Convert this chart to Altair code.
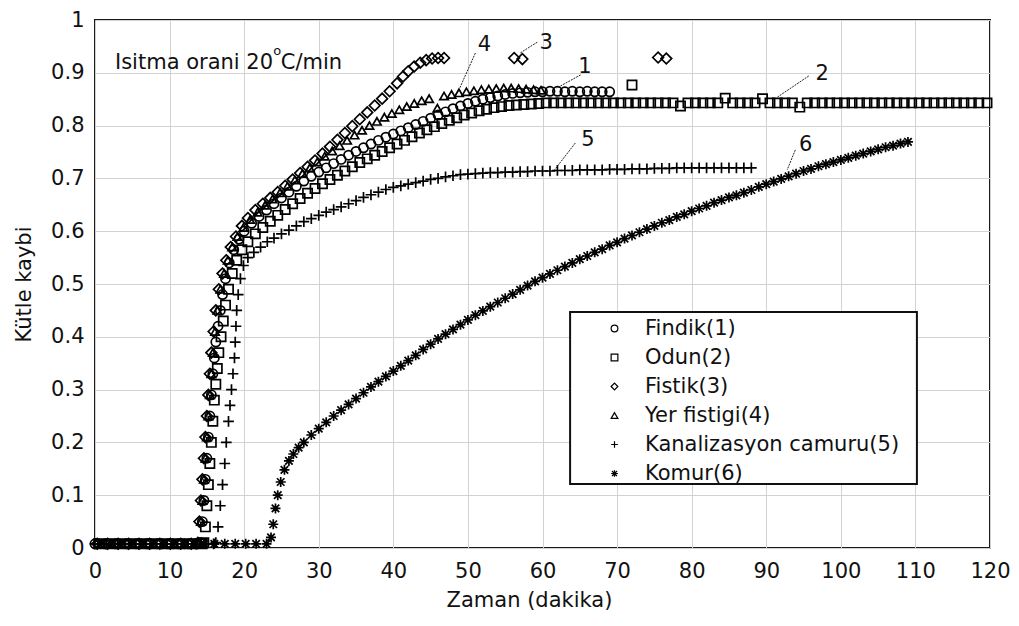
import altair as alt
import pandas as pd

NAMES = ["Findik(1)", "Odun(2)", "Fistik(3)", "Yer fistigi(4)",
         "Kanalizasyon camuru(5)", "Komur(6)"]

# ---- Findik (1), circles
findik_x = [0.0, 1.4, 2.8, 4.2, 5.6, 7.0, 8.4, 9.8, 11.2, 12.6, 13.6,
            14.2, 14.4, 14.6, 14.8, 15.0, 15.2, 15.4, 15.6, 15.8, 16.0, 16.2, 16.5,
            16.8, 17.1, 17.5, 18.0, 18.6, 19.3, 20.0,
            21, 22, 23, 24, 25, 26, 27, 28, 29, 30, 31, 32, 33, 34, 35, 36, 37, 38,
            39, 40, 41, 42, 43, 44, 45, 46, 47, 48, 49, 50, 51, 52, 53, 54, 55, 56,
            57, 58, 59, 60, 61, 62, 63, 64, 65, 66, 67, 68, 69]
findik_y = [0.008, 0.008, 0.008, 0.008, 0.008, 0.008, 0.008, 0.008, 0.008, 0.008, 0.008,
            0.01, 0.05, 0.09, 0.13, 0.17, 0.21, 0.25, 0.29, 0.33, 0.36, 0.39, 0.42,
            0.45, 0.48, 0.51, 0.54, 0.565, 0.585, 0.6,
            0.615, 0.628, 0.64, 0.652, 0.663, 0.674, 0.685, 0.695, 0.704, 0.712, 0.72,
            0.728, 0.736, 0.744, 0.751, 0.758, 0.765, 0.772, 0.778, 0.784, 0.79, 0.796,
            0.802, 0.808, 0.814, 0.82, 0.826, 0.832, 0.837, 0.842, 0.846, 0.85, 0.853,
            0.856, 0.859, 0.861, 0.862, 0.863, 0.864, 0.864, 0.865, 0.865, 0.864, 0.865,
            0.864, 0.865, 0.864, 0.864, 0.864]

# ---- Odun (2), squares
odun_x = [0.5, 1.9, 3.3, 4.7, 6.1, 7.5, 8.9, 10.3, 11.7, 13.1, 14.2,
          14.6, 14.8, 15.0, 15.2, 15.4, 15.6, 15.8, 16.0, 16.2, 16.4, 16.6, 16.9,
          17.2, 17.5, 17.9, 18.4, 19.0, 19.7, 20.5,
          21.5, 22.5, 23.5, 24.5, 25.5, 26.5, 27.5, 28.5, 29.5, 30.5, 31.5, 32.5,
          33.5, 34.5, 35.5, 36.5, 37.5, 38.5, 39.5, 40.5, 41.5, 42.5, 43.5, 44.5,
          45.5, 46.5, 47.5, 48.5, 49.5, 50.5, 51.5, 52.5, 53.5, 54.5, 55.5, 56.5,
          57.5, 58.5, 59.5,
          60.5, 61.5, 62.5, 63.5, 64.5, 65.5, 66.5, 67.5, 68.5, 69.5, 70.5, 71.5,
          72.0, 72.5, 73.5, 74.5, 75.5, 76.5, 77.5, 78.5, 79.5, 80.5, 81.5, 82.5,
          83.5, 84.5, 85.5, 86.5, 87.5, 88.5, 89.5, 90.5, 91.5, 92.5, 93.5, 94.5,
          95.5, 96.5, 97.5, 98.5, 99.5, 100.5, 101.5, 102.5, 103.5, 104.5, 105.5,
          106.5, 107.5, 108.5, 109.5, 110.5, 111.5, 112.5, 113.5, 114.5, 115.5,
          116.5, 117.5, 118.5, 119.6]
odun_y = [0.008, 0.008, 0.008, 0.008, 0.008, 0.008, 0.008, 0.008, 0.008, 0.008, 0.008,
          0.01, 0.04, 0.08, 0.12, 0.16, 0.2, 0.24, 0.28, 0.31, 0.34, 0.37, 0.40,
          0.43, 0.46, 0.49, 0.52, 0.545, 0.565, 0.58,
          0.595, 0.607, 0.619, 0.63, 0.641, 0.652, 0.662, 0.672, 0.681, 0.69, 0.698,
          0.706, 0.714, 0.722, 0.73, 0.737, 0.744, 0.751, 0.758, 0.765, 0.772, 0.779,
          0.786, 0.792, 0.798, 0.804, 0.81, 0.815, 0.82, 0.824, 0.828, 0.831, 0.834,
          0.836, 0.838, 0.839, 0.84, 0.841, 0.842,
          0.843, 0.843, 0.843, 0.843, 0.843, 0.843, 0.843, 0.843, 0.843, 0.843, 0.843,
          0.843, 0.877, 0.843, 0.843, 0.843, 0.843, 0.843, 0.843, 0.837, 0.843, 0.843,
          0.843, 0.843, 0.843, 0.852, 0.843, 0.843, 0.843, 0.843, 0.851, 0.843, 0.843,
          0.843, 0.843, 0.835, 0.843, 0.843, 0.843, 0.843, 0.843, 0.843, 0.843, 0.843,
          0.843, 0.843, 0.843, 0.843, 0.843, 0.843, 0.843, 0.843, 0.843, 0.843, 0.843,
          0.843, 0.843, 0.843, 0.843, 0.843, 0.843, 0.848]

# ---- Fistik (3), diamonds
fistik_x = [0.3, 1.7, 3.1, 4.5, 5.9, 7.3, 8.7, 10.1, 11.5, 12.9,
            13.8, 14.0, 14.2, 14.4, 14.6, 14.8, 15.0, 15.2, 15.4, 15.6, 15.9, 16.2,
            16.6, 17.1, 17.6, 18.2, 18.9, 19.7, 20.5, 21.5, 22.5, 23.5, 24.5, 25.5,
            26.5, 27.5, 28.5, 29.5, 30.5, 31.5, 32.5, 33.5, 34.5, 35.5, 36.5, 37.5,
            38.5, 39.5, 40.5, 41.3, 42.0, 42.8, 43.6, 44.4, 45.2, 46.0, 46.8,
            56.2, 57.3, 75.5, 76.6]
fistik_y = [0.008, 0.008, 0.008, 0.008, 0.008, 0.008, 0.008, 0.008, 0.008, 0.008,
            0.01, 0.05, 0.09, 0.13, 0.17, 0.21, 0.25, 0.29, 0.33, 0.37, 0.41, 0.45,
            0.49, 0.52, 0.545, 0.57, 0.59, 0.61, 0.625, 0.64, 0.652, 0.663, 0.674,
            0.686, 0.698, 0.71, 0.722, 0.734, 0.747, 0.76, 0.773, 0.786, 0.799, 0.812,
            0.825, 0.838, 0.851, 0.865, 0.88, 0.893, 0.903, 0.912, 0.919, 0.924,
            0.927, 0.928, 0.928,
            0.928, 0.926, 0.929, 0.927]

# ---- Yer fistigi (4), triangles
yer_x = [0.8, 2.2, 3.6, 5.0, 6.4, 7.8, 9.2, 10.6, 12.0, 13.3,
         14.0, 14.2, 14.4, 14.6, 14.8, 15.0, 15.2, 15.4, 15.6, 15.8, 16.1, 16.4,
         16.8, 17.3, 17.8, 18.4, 19.1, 19.9, 20.8, 21.8, 22.8, 23.8, 24.8, 25.8,
         26.8, 27.8, 28.8, 29.8, 30.8, 31.8, 32.8, 33.8, 34.8, 35.8, 36.8, 37.8,
         38.8, 39.8, 40.8, 41.8, 42.8, 43.8, 44.8, 45.9, 46.8, 47.8, 48.8, 49.8,
         50.8, 51.8, 52.8, 53.8, 54.8, 55.8, 56.8, 57.8, 58.8, 59.8]
yer_y = [0.008, 0.008, 0.008, 0.008, 0.008, 0.008, 0.008, 0.008, 0.008, 0.008,
         0.01, 0.05, 0.09, 0.13, 0.17, 0.21, 0.25, 0.29, 0.33, 0.37, 0.41, 0.45,
         0.49, 0.52, 0.545, 0.57, 0.59, 0.607, 0.622, 0.636, 0.649, 0.661, 0.673,
         0.685, 0.697, 0.709, 0.72, 0.731, 0.742, 0.752, 0.762, 0.772, 0.782, 0.791,
         0.8, 0.808, 0.816, 0.823, 0.83, 0.836, 0.842, 0.847, 0.851, 0.833, 0.856,
         0.859, 0.862, 0.864, 0.866, 0.868, 0.869, 0.87, 0.871, 0.871, 0.87, 0.869,
         0.868, 0.867]

# ---- Kanalizasyon camuru (5), plus signs
kanal_x = [0.0, 1.5, 3.0, 4.5, 6.0, 7.5, 9.0, 10.5, 12.0, 13.5, 15.0, 15.9,
           16.2, 16.5, 16.8, 17.1, 17.4, 17.6, 17.9, 18.1, 18.3, 18.5, 18.7, 18.8,
           18.9, 19.0, 19.2, 19.5, 19.9, 20.5, 21.3, 22.2, 23.1, 24, 25, 26, 27, 28,
           29, 30, 31, 32, 33, 34, 35, 36, 37, 38, 39, 40, 41, 42, 43, 44, 45, 46,
           47, 48, 49, 50, 51, 52, 53, 54, 55, 56, 57, 58, 59, 60, 61, 62, 63, 64,
           65, 66, 67, 68, 69, 70, 71, 72, 73, 74, 75, 76, 77, 78, 79, 80, 81, 82,
           83, 84, 85, 86, 87, 88]
kanal_y = [0.008, 0.008, 0.008, 0.008, 0.008, 0.008, 0.008, 0.008, 0.008, 0.008, 0.008, 0.008,
           0.01, 0.04, 0.08, 0.12, 0.16, 0.2, 0.24, 0.27, 0.3, 0.33, 0.36, 0.39,
           0.42, 0.45, 0.48, 0.51, 0.535, 0.55, 0.56, 0.57, 0.58, 0.587, 0.595, 0.602,
           0.61, 0.618, 0.624, 0.63, 0.636, 0.641, 0.646, 0.652, 0.658, 0.664, 0.669,
           0.674, 0.679, 0.683, 0.686, 0.689, 0.692, 0.695, 0.698, 0.7, 0.703, 0.705,
           0.707, 0.708, 0.709, 0.71, 0.711, 0.711, 0.712, 0.712, 0.713, 0.713, 0.714,
           0.714, 0.714, 0.715, 0.715, 0.715, 0.716, 0.716, 0.716, 0.716, 0.717, 0.717,
           0.717, 0.718, 0.718, 0.718, 0.719, 0.719, 0.719, 0.72, 0.72, 0.72, 0.72,
           0.72, 0.72, 0.72, 0.72, 0.72, 0.72, 0.72]

# ---- Komur (6), asterisks
komur_x = [0.6, 2.0, 3.4, 4.8, 6.2, 7.6, 9.0, 10.4, 11.8, 13.2, 14.6, 16.0, 17.4,
           18.8, 20.2, 21.6, 23.0,
           23.6, 23.9, 24.2, 24.5, 24.9, 25.4, 26.0, 26.6, 27.3, 28.0, 29, 30, 31,
           32, 33, 34, 35, 36, 37, 38, 39, 40, 41, 42, 43, 44, 45, 46, 47, 48, 49,
           50, 51, 52, 53, 54, 55, 56, 57, 58, 59, 60, 61, 62, 63, 64, 65, 66, 67,
           68, 69, 70, 71, 72, 73, 74, 75, 76, 77, 78, 79, 80, 81, 82, 83, 84, 85,
           86, 87, 88, 89, 90, 91, 92, 93, 94, 95, 96, 97, 98, 99, 100, 101, 102,
           103, 104, 105, 106, 107, 108, 109]
komur_y = [0.008, 0.008, 0.008, 0.008, 0.008, 0.008, 0.008, 0.008, 0.008, 0.008,
           0.008, 0.008, 0.008, 0.008, 0.008, 0.008, 0.008,
           0.02, 0.045, 0.075, 0.1, 0.125, 0.148, 0.165, 0.178, 0.19, 0.2, 0.214,
           0.226, 0.238, 0.25, 0.261, 0.272, 0.283, 0.294, 0.305, 0.315, 0.325, 0.335,
           0.345, 0.355, 0.365, 0.376, 0.386, 0.396, 0.405, 0.414, 0.423, 0.432,
           0.441, 0.449, 0.457, 0.465, 0.473, 0.481, 0.489, 0.497, 0.505, 0.512,
           0.519, 0.526, 0.533, 0.54, 0.547, 0.553, 0.56, 0.566, 0.573, 0.579, 0.586,
           0.592, 0.598, 0.604, 0.61, 0.616, 0.621, 0.627, 0.632, 0.638, 0.643, 0.648,
           0.654, 0.659, 0.664, 0.668, 0.673, 0.678, 0.684, 0.689, 0.694, 0.699,
           0.704, 0.709, 0.714, 0.718, 0.723, 0.727, 0.731, 0.735, 0.739, 0.743,
           0.747, 0.751, 0.755, 0.759, 0.762, 0.766, 0.769, 0.773]

SERIES_X = [findik_x, odun_x, fistik_x, yer_x, kanal_x, komur_x]
SERIES_Y = [findik_y, odun_y, fistik_y, yer_y, kanal_y, komur_y]

rows = []
for name, xs, ys in zip(NAMES, SERIES_X, SERIES_Y):
    for a, b in zip(xs, ys):
        rows.append({"seri": name, "zaman": a, "kayip": b})
df = pd.DataFrame(rows)

# ---- annotations (data coordinates)
lab_text = ["1", "2", "3", "4", "5", "6"]
lab_x = [65.7, 97.5, 60.5, 52.2, 66.1, 95.3]
lab_y = [0.911, 0.898, 0.956, 0.953, 0.773, 0.763]
lead_x1 = [65.1, 95.7, 59.3, 51.0, 64.4, 93.9]
lead_y1 = [0.896, 0.894, 0.958, 0.9375, 0.767, 0.754]
lead_x2 = [61.9, 91.5, 57.0, 48.9, 61.6, 92.8]
lead_y2 = [0.871, 0.854, 0.9375, 0.871, 0.716, 0.716]

labels_df = pd.DataFrame({"t": lab_text, "x": lab_x, "y": lab_y})
leads_df = pd.DataFrame({"x": lead_x1, "y": lead_y1, "x2": lead_x2, "y2": lead_y2})
note_df = pd.DataFrame({"t": ["Isitma orani 20", "C/min"], "x": [2.68, 24.9], "y": [0.907, 0.907]})
sup_df = pd.DataFrame({"t": ["o"], "x": [23.9], "y": [0.934]})
box_df = pd.DataFrame({"x": [63.7], "x2": [110.2], "y": [0.447], "y2": [0.121]})

FONT = "DejaVu Sans"
INK = "#111111"
PLUS = "M-1,0H1M0,-1V1"
AST = "M-1,0H1M0,-1V1M-0.75,-0.75L0.75,0.75M-0.75,0.75L0.75,-0.75"
SHAPES = ["circle", "square", "diamond", "triangle-up", PLUS, AST]
SIZES = [85, 85, 115, 70, 115, 100]

x_scale = alt.Scale(domain=[0, 120], nice=False, zero=False)
y_scale = alt.Scale(domain=[0, 1], nice=False)
shape_scale = alt.Scale(domain=NAMES, range=SHAPES)

x_axis = alt.Axis(values=[0, 10, 20, 30, 40, 50, 60, 70, 80, 90, 100, 110, 120],
                  format="d", title="Zaman (dakika)", grid=True, ticks=False,
                  domain=False, labelPadding=12, labelFlush=False,
                  titleX=434, titleY=58, titleBaseline="alphabetic", titleAlign="center")
y_axis = alt.Axis(values=[0, 0.1, 0.2, 0.3, 0.4, 0.5, 0.6, 0.7, 0.8, 0.9, 1.0],
                  format=".1~f", title="Kütle kaybi", grid=True, ticks=False,
                  domain=False, labelPadding=11, labelFlush=False,
                  titleX=-71, titleY=264, titleAngle=270, titleBaseline="middle",
                  titleAlign="center")

legend = alt.Legend(title=None, orient="none", legendX=509, legendY=298,
                    direction="vertical", symbolSize=45, symbolStrokeWidth=1.2,
                    symbolStrokeColor="black", symbolFillColor="transparent",
                    labelFontSize=21, labelFont=FONT, labelColor=INK, labelLimit=500,
                    labelOffset=20, rowPadding=7, padding=0)

base = alt.Chart(df)
layers = []
for name, size in zip(NAMES, SIZES):
    layers.append(
        base.transform_filter(alt.datum.seri == name)
        .mark_point(filled=False, size=size, strokeWidth=1.7, color="black", opacity=1)
        .encode(
            x=alt.X("zaman:Q", scale=x_scale, axis=x_axis),
            y=alt.Y("kayip:Q", scale=y_scale, axis=y_axis),
            shape=alt.Shape("seri:N", scale=shape_scale, legend=legend),
        )
    )

box = alt.Chart(box_df).mark_rect(fill="white", stroke=INK, strokeWidth=2).encode(
    x="x:Q", x2="x2:Q", y="y:Q", y2="y2:Q")
leads = alt.Chart(leads_df).mark_rule(color="#222222", strokeWidth=1, strokeDash=[2, 1]).encode(
    x="x:Q", y="y:Q", x2="x2:Q", y2="y2:Q")
labels = alt.Chart(labels_df).mark_text(font=FONT, fontSize=21, color=INK, align="center",
                                        baseline="middle").encode(x="x:Q", y="y:Q", text="t:N")
note = alt.Chart(note_df).mark_text(font=FONT, fontSize=21, color=INK, align="left",
                                    baseline="alphabetic").encode(x="x:Q", y="y:Q", text="t:N")
sup = alt.Chart(sup_df).mark_text(font=FONT, fontSize=13, color=INK, align="left",
                                  baseline="alphabetic").encode(x="x:Q", y="y:Q", text="t:N")

chart = alt.layer(*layers, box, leads, labels, note, sup).properties(
    width=895, height=528,
    padding={"left": 87, "top": 12, "right": 21, "bottom": 64},
    autosize=alt.AutoSizeParams(type="none"),
).configure_view(
    stroke="#1a1a1a", strokeWidth=2
).configure_axis(
    labelFont=FONT, labelFontSize=21, labelColor=INK,
    titleFont=FONT, titleFontSize=21, titleColor=INK, titleFontWeight="normal",
    gridColor="#d2d2d2", gridWidth=1
)

chart.save("out.html", embed_options={"renderer": "svg", "actions": False})
